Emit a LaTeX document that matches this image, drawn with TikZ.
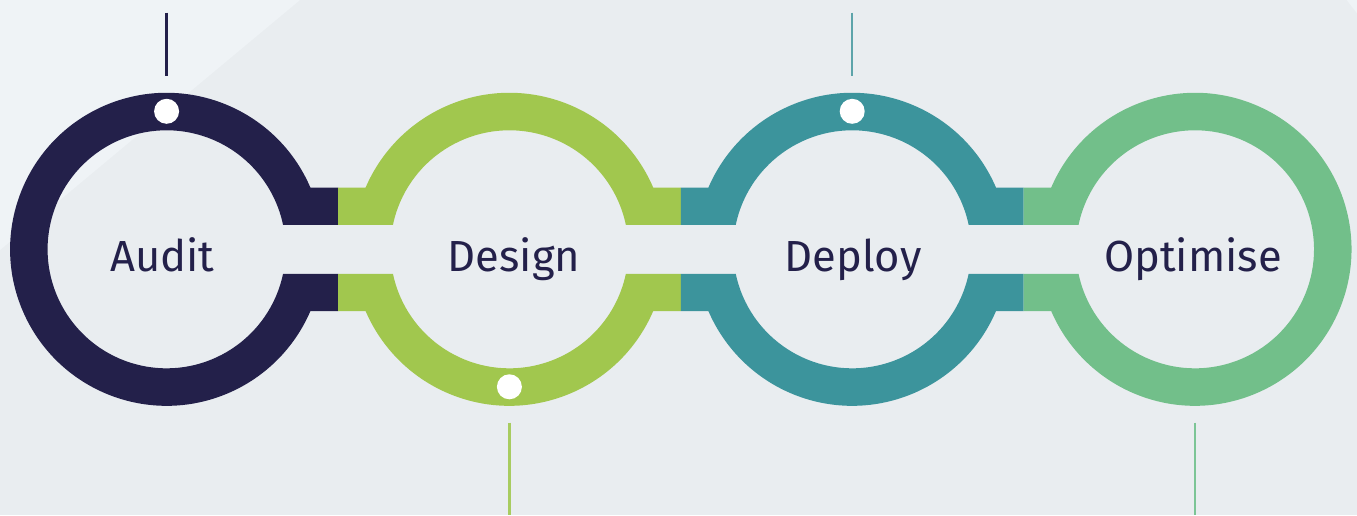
\documentclass[tikz,border=0pt]{standalone}
\usepackage{fontspec}
\setmainfont{Fira Sans}
\definecolor{bgmain}{HTML}{E9EDF0}
\definecolor{bglight}{HTML}{EFF3F6}
\definecolor{navy}{HTML}{23204A}
\definecolor{lime}{HTML}{A1C74E}
\definecolor{teal}{HTML}{3C949C}
\definecolor{mint}{HTML}{72BF8A}
\definecolor{tealline}{HTML}{5DA4AA}
\definecolor{limeline}{HTML}{A8CC60}
\definecolor{mintline}{HTML}{7CC596}
\tikzset{
  ringtext/.style={anchor=base, text=navy, font=\fontsize{43.5}{43.5}\selectfont, inner sep=0pt},
  whitedot/.style={circle, fill=white, minimum size=25pt, inner sep=0pt},
  stem/.style={line width=2.5pt},
}
\begin{document}
\begin{tikzpicture}[x=1pt,y=-1pt]
\def\cy{249.3}
\def\R{156.5}
\def\r{119}
\def\ho{61.7}
\def\hi{24.5}
\def\ao{23.22}
\def\ai{11.88}
% background
\fill[bgmain] (0,0) rectangle (1357,515);
\fill[bglight] (0,0) -- (300,0) -- (0,250) -- cycle;
\fill[bglight] (1346.7,0) -- (1357,0) -- (1357,13.3) -- cycle;
\useasboundingbox (0,0) rectangle (1357,515);
% centres
\coordinate (c1) at (166.6,\cy);
\coordinate (c2) at (509.4,\cy);
\coordinate (c3) at (852.2,\cy);
\coordinate (c4) at (1195.0,\cy);
% ring 1 : Audit
\fill[navy] ([shift={(-\ao:\R)}]c1) arc[start angle=-\ao, end angle={-360+\ao}, radius=\R]
  -- (338.0,\cy+\ho) -- (338.0,\cy+\hi) -- ([shift={(\ai:\r)}]c1)
  arc[start angle={-360+\ai}, end angle=-\ai, radius=\r]
  -- (338.0,\cy-\hi) -- (338.0,\cy-\ho) -- cycle;
% ring 2 : Design
\fill[lime] (680.8,\cy-\ho) -- ([shift={(-\ao:\R)}]c2) arc[start angle=-\ao, end angle={-180+\ao}, radius=\R]
  -- (338.0,\cy-\ho) -- (338.0,\cy-\hi) -- ([shift={(-180+\ai:\r)}]c2)
  arc[start angle={-180+\ai}, end angle=-\ai, radius=\r] -- (680.8,\cy-\hi) -- cycle;
\fill[lime] (680.8,\cy+\ho) -- ([shift={(\ao:\R)}]c2) arc[start angle=\ao, end angle={180-\ao}, radius=\R]
  -- (338.0,\cy+\ho) -- (338.0,\cy+\hi) -- ([shift={(180-\ai:\r)}]c2)
  arc[start angle={180-\ai}, end angle=\ai, radius=\r] -- (680.8,\cy+\hi) -- cycle;
% ring 3 : Deploy
\fill[teal] (1023.6,\cy-\ho) -- ([shift={(-\ao:\R)}]c3) arc[start angle=-\ao, end angle={-180+\ao}, radius=\R]
  -- (680.8,\cy-\ho) -- (680.8,\cy-\hi) -- ([shift={(-180+\ai:\r)}]c3)
  arc[start angle={-180+\ai}, end angle=-\ai, radius=\r] -- (1023.6,\cy-\hi) -- cycle;
\fill[teal] (1023.6,\cy+\ho) -- ([shift={(\ao:\R)}]c3) arc[start angle=\ao, end angle={180-\ao}, radius=\R]
  -- (680.8,\cy+\ho) -- (680.8,\cy+\hi) -- ([shift={(180-\ai:\r)}]c3)
  arc[start angle={180-\ai}, end angle=\ai, radius=\r] -- (1023.6,\cy+\hi) -- cycle;
% ring 4 : Optimise
\fill[mint] ([shift={(-180+\ao:\R)}]c4) arc[start angle={-180+\ao}, end angle={180-\ao}, radius=\R]
  -- (1023.6,\cy+\ho) -- (1023.6,\cy+\hi) -- ([shift={(180-\ai:\r)}]c4)
  arc[start angle={180-\ai}, end angle={-180+\ai}, radius=\r]
  -- (1023.6,\cy-\hi) -- (1023.6,\cy-\ho) -- cycle;
% dots
\node[whitedot] (d1) at (166.6,111.3) {};
\node[whitedot] (d3) at (852.2,111.3) {};
\node[whitedot] (d2) at (509.4,386.8) {};
% stems
\coordinate (s1a) at (166.6,12.7); \coordinate (s1b) at (166.6,76);
\coordinate (s3a) at (852.2,12.7); \coordinate (s3b) at (852.2,76);
\coordinate (s2a) at (509.4,422.7); \coordinate (s2b) at (509.4,515);
\coordinate (s4a) at (1195.0,422.7); \coordinate (s4b) at (1195.0,515);
\draw[stem, navy] (s1a) -- (s1b);
\draw[stem, tealline] (s3a) -- (s3b);
\draw[stem, limeline] (s2a) -- (s2b);
\draw[stem, mintline] (s4a) -- (s4b);
% labels
\node[ringtext] (t1) at (162.5,271) {Audit};
\node[ringtext] (t2) at (514,271) {Design};
\node[ringtext] (t3) at (853,271) {Deploy};
\node[ringtext] (t4) at (1193,271) {Optimise};
\end{tikzpicture}
\end{document}
